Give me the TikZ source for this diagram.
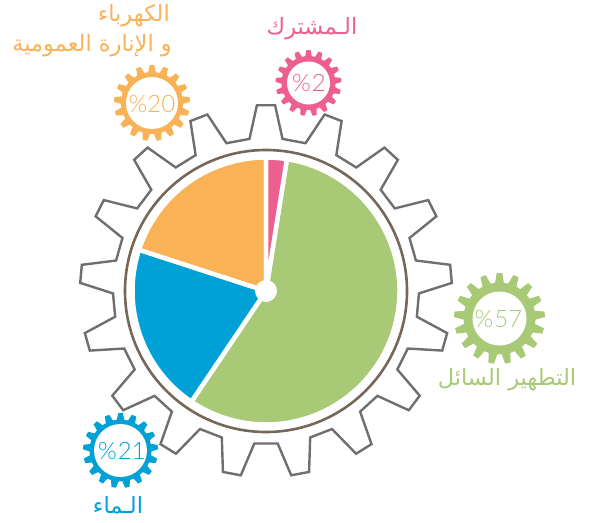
\documentclass[tikz,border=0pt]{standalone}
\usepackage{fontspec}
\setmainfont{Lato Light}
\newfontfamily\arabicfont[Script=Arabic]{DejaVu Sans}
\TeXXeTstate=1
\definecolor{cgreen}{HTML}{A8C976}
\definecolor{cblue}{HTML}{00A1D6}
\definecolor{corange}{HTML}{F9B256}
\definecolor{cpink}{HTML}{EC5F8F}
\definecolor{cbrown}{HTML}{75675A}
\definecolor{cgray}{HTML}{6F6F6F}
\tikzset{
  wedgepart/.style={draw=white,line width=4.5pt,line join=round},
  arlabel/.style={inner sep=0pt,align=center,font=\arabicfont\fontsize{22.5}{30}\selectfont},
  numlabel/.style={inner sep=0pt,font=\fontsize{24}{24}\selectfont},
}
% #1 options, #2 n teeth, #3 tip radius, #4 root radius, #5 tip half angle, #6 base half angle
\newcommand{\gearshape}[6]{%
  \pgfmathsetmacro{\gstep}{360/#2}%
  \pgfmathtruncatemacro{\glast}{#2-1}%
  \path[#1] (-90-#6:#4)
  \foreach \k [evaluate=\k as \ga using -90+\k*\gstep] in {0,...,\glast}{
    -- (\ga-#6:#4) -- (\ga-#5:#3) -- (\ga+#5:#3) -- (\ga+#6:#4)
  } -- cycle;
}
\newcommand{\smallgear}[7]{% x y color n tip root inner
  \begin{scope}[shift={(#1,#2)}]
    \gearshape{fill=#3}{#4}{#5}{#6}{3.5}{7}
    \fill[white] (0,0) circle[radius=#7];
  \end{scope}
}
\begin{document}
\begin{tikzpicture}[x=1pt,y=-1pt]
\useasboundingbox (0,0) rectangle (591,522);
% big gear
\begin{scope}[shift={(266,291)}]
  \gearshape{draw=cgray,line width=2.4pt,line join=miter}{17}{186}{153}{2.8}{6.2}
  \draw[cbrown,line width=2.6pt,fill=white] (0,0) circle[radius=141];
  \fill[cgreen,wedgepart] (0,0) -- (-81:133.5) arc[start angle=-81,end angle=124,radius=133.5] -- cycle;
  \fill[cblue,wedgepart] (0,0) -- (124:133.5) arc[start angle=124,end angle=198,radius=133.5] -- cycle;
  \fill[corange,wedgepart] (0,0) -- (198:133.5) arc[start angle=198,end angle=270,radius=133.5] -- cycle;
  \fill[cpink,wedgepart] (0,0) -- (270:133.5) arc[start angle=270,end angle=279,radius=133.5] -- cycle;
  \fill[white] (0,0) circle[radius=11];
\end{scope}
% small gears
\smallgear{308.5}{83}{cpink}{17}{33}{27}{21.5}
\smallgear{152}{103}{corange}{17}{38}{31}{26}
\smallgear{499.5}{318.5}{cgreen}{17}{45.5}{36}{27}
\smallgear{120.5}{450.5}{cblue}{17}{37.5}{31}{26.5}
\node[numlabel,text=cpink] (n2) at (309,83) {\%\kern1pt 2};
\node[numlabel,text=corange] (n20) at (152,104) {\%20};
\node[numlabel,text=cgreen] (n57) at (498.5,319) {\%\kern1pt 57};
\node[numlabel,text=cblue] (n21) at (122,451) {\%\kern1pt 21};
\node[arlabel,text=cpink] (l2) at (312,29) {\beginR الـمشترك\endR};
\node[arlabel,text=corange,anchor=east] (l20a) at (170,16) {\beginR الكهرباء\endR};
\node[arlabel,text=corange,anchor=east] (l20b) at (172,46) {\beginR و الإنارة العمومية\endR};
\node[arlabel,text=cgreen] (l57) at (507,380) {\beginR التطهير السائل\endR};
\node[arlabel,text=cblue] (l21) at (118,505) {\beginR الـماء\endR};
\end{tikzpicture}
\end{document}
